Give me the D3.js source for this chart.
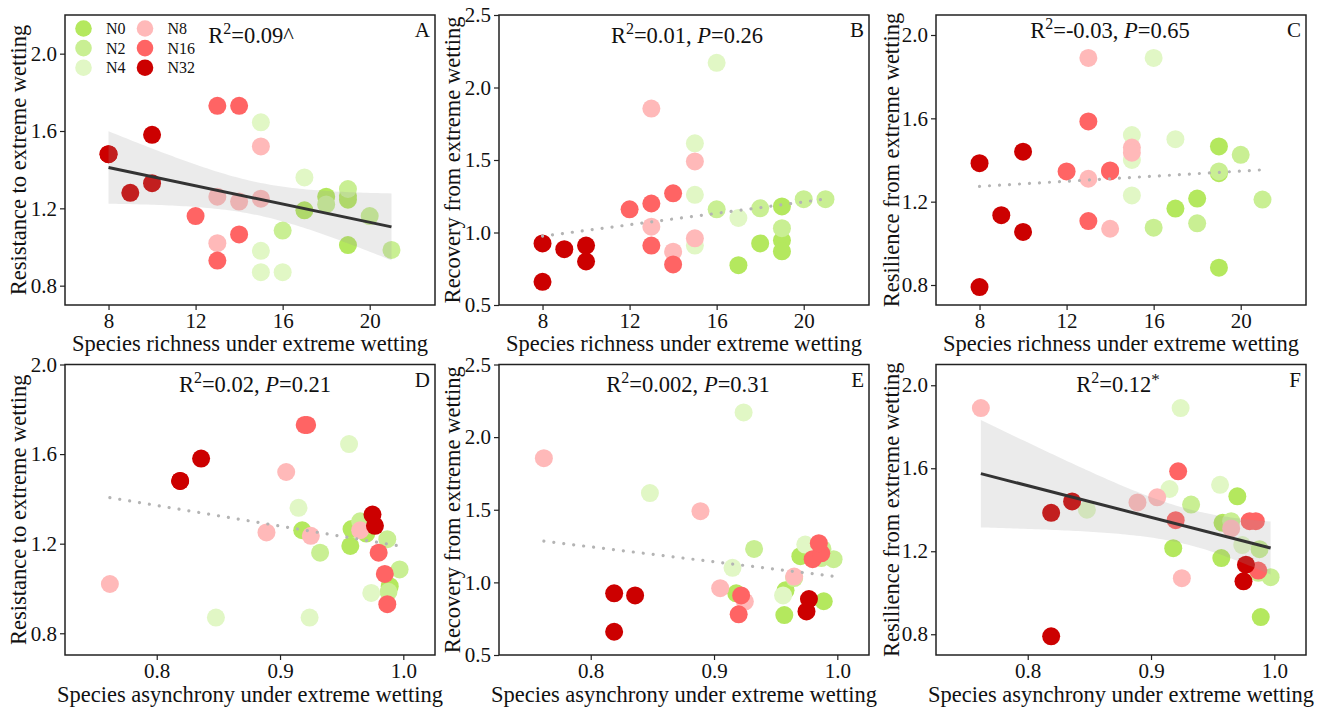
<!DOCTYPE html>
<html><head><meta charset="utf-8">
<script src="https://cdn.jsdelivr.net/npm/d3@7"></script>
<style>
body{margin:0;background:#fff}
svg{display:block}
text{font-family:"Liberation Serif","Times New Roman",serif;fill:#111}
</style>
</head><body>
<svg id="chart" width="1328" height="710"></svg>
<script>
// ---------- data (30 plots, 6 N levels x 5 replicates) ----------
const group = ["N0","N0","N0","N0","N0","N2","N2","N2","N2","N2","N4","N4","N4","N4","N4",
               "N8","N8","N8","N8","N8","N16","N16","N16","N16","N16","N32","N32","N32","N32","N32"];
const richness   = [18,19,19,17,19, 16,18,19,20,21, 16,17,15,15,15, 13,15,15,14,13, 12,13,13,14,14, 8,8,10,9,10];
const asynchrony = [0.918,0.970,0.958,0.957,0.989, 0.997,0.987,0.965,0.9325,0.988, 0.924,0.915,0.956,0.848,0.974,
                    0.762,0.905,0.889,0.925,0.965, 0.980,0.922,0.987,0.920,0.985, 0.819,0.819,0.836,0.977,0.975];
const resistance = [1.26,1.245,1.265,1.19,1.01, 1.085,1.22,1.30,1.16,0.985, 0.87,1.36,1.645,0.87,0.98,
                    1.02,1.52,1.25,1.235,1.26, 1.16,1.73,0.93,1.73,1.065, 1.48,1.48,1.58,1.28,1.33];
const recovery   = [0.925,1.18,0.945,0.775,0.87, 1.16,1.167,1.03,1.23,1.23, 2.17,1.10,0.91,1.615,1.26,
                    1.855,0.96,1.49,0.868,1.04, 1.16,0.91,1.20,0.78,1.27, 0.925,0.66,0.91,0.885,0.80];
const resilience = [1.215,1.465,1.337,1.167,0.883, 1.075,1.096,1.345,1.425,1.21, 1.89,1.50,1.52,1.40,1.23,
                    1.89,1.46,1.435,1.07,1.31, 1.345,1.585,1.107,1.35,1.345, 1.385,0.79,1.44,1.135,1.055];

const legendLabels = ["N0","N2","N4","N8","N16","N32"];
const groupColors  = ["#b4e85e","#c9ef93","#e1f7c5","#ffb9b9","#ff6464","#cc0000"];

const richnessTicks   = [8,12,16,20];
const asynchronyTicks = [0.8,0.9,1.0];
const resistanceTicks = [0.8,1.2,1.6,2.0];
const recoveryTicks   = [0.5,1.0,1.5,2.0,2.5];
const resilienceTicks = [0.8,1.2,1.6,2.0];

const panelLetters = ["A","B","C","D","E","F"];
const statR2   = ["0.09","0.01","-0.03","0.02","0.002","0.12"];
const statP    = [null,"0.26","0.65","0.21","0.31",null];
const statMark = ["^","","","","","*"];
const significant = [true,false,false,false,false,true];

const xTitles = ["Species richness under extreme wetting","Species asynchrony under extreme wetting"];
const yTitles = ["Resistance to extreme wetting","Recovery from extreme wetting","Resilience from extreme wetting"];

// ---------- layout ----------
const colorOf = d3.scaleOrdinal().domain(legendLabels).range(groupColors);
const cols = [{l:65,r:435,yt:26},{l:499,r:869,yt:460},{l:936,r:1306,yt:899}];
const rows = [{t:15,b:305,xl:328,xt:351},{t:364.5,b:655,xl:678,xt:702}];
const yVars = [
  {v:resistance, ticks:resistanceTicks, doms:[[0.70,2.20],[0.703,2.0]], title:yTitles[0]},
  {v:recovery,   ticks:recoveryTicks,   doms:[[0.5,2.5],[0.5,2.5]],     title:yTitles[1]},
  {v:resilience, ticks:resilienceTicks, doms:[[0.704,2.096],[0.70,2.10]], title:yTitles[2]}
];
const xVars = [
  {v:richness,   ticks:richnessTicks,   dom:[6,23],           fmt:d3.format("d"),   title:xTitles[0]},
  {v:asynchrony, ticks:asynchronyTicks, dom:[0.7256,1.0257],  fmt:d3.format(".1f"), title:xTitles[1]}
];
const statPos = [[251,43],[687,43],[1110,38],[255,392],[688,392],[1118,392]];

const svg = d3.select("#chart");

function olsFit(xs, ys){
  const n = xs.length, mx = d3.mean(xs), my = d3.mean(ys);
  let sxx=0, sxy=0;
  for(let i=0;i<n;i++){ sxx += (xs[i]-mx)**2; sxy += (xs[i]-mx)*(ys[i]-my); }
  const b = sxy/sxx, a = my - b*mx;
  let sse=0; for(let i=0;i<n;i++){ sse += (ys[i]-a-b*xs[i])**2; }
  const s = Math.sqrt(sse/(n-2)), t = 2.048;
  return {a,b,band:x=>t*s*Math.sqrt(1/n + (x-mx)**2/sxx)};
}

for(let r=0;r<2;r++){
  for(let c=0;c<3;c++){
    const k = r*3+c;
    const col = cols[c], row = rows[r];
    const xv = xVars[r], yv = yVars[c];
    const x = d3.scaleLinear().domain(xv.dom).range([col.l,col.r]);
    const y = d3.scaleLinear().domain(yv.doms[r]).range([row.b,row.t]);
    const g = svg.append("g");

    // points
    g.selectAll("circle.pt").data(d3.range(30)).join("circle")
      .attr("class","pt")
      .attr("cx",i=>x(xv.v[i])).attr("cy",i=>y(yv.v[i])).attr("r",9)
      .attr("fill",i=>colorOf(group[i]));

    // fit
    const fit = olsFit(xv.v, yv.v);
    const [xmin,xmax] = d3.extent(xv.v);
    if(significant[k]){
      const xs = d3.range(0,81).map(j=>xmin+(xmax-xmin)*j/80);
      const area = d3.area().x(d=>x(d)).y0(d=>y(fit.a+fit.b*d-fit.band(d))).y1(d=>y(fit.a+fit.b*d+fit.band(d)));
      g.append("path").attr("d",area(xs)).attr("fill","#999").attr("fill-opacity",0.2);
      g.append("line").attr("x1",x(xmin)).attr("x2",x(xmax))
        .attr("y1",y(fit.a+fit.b*xmin)).attr("y2",y(fit.a+fit.b*xmax))
        .attr("stroke","#333").attr("stroke-width",3);
    } else {
      g.append("line").attr("x1",x(xmin)).attr("x2",x(xmax))
        .attr("y1",y(fit.a+fit.b*xmin)).attr("y2",y(fit.a+fit.b*xmax))
        .attr("stroke","#b4b4b4").attr("stroke-width",3.2)
        .attr("stroke-linecap","round").attr("stroke-dasharray","0.01 10");
    }

    // frame
    g.append("rect").attr("x",col.l).attr("y",row.t).attr("width",col.r-col.l).attr("height",row.b-row.t)
      .attr("fill","none").attr("stroke","#222").attr("stroke-width",1.5);

    // axes
    const xa = g.append("g").attr("transform",`translate(0,${row.b})`)
      .call(d3.axisBottom(x).tickValues(xv.ticks).tickFormat(xv.fmt).tickSize(5).tickPadding(3));
    xa.select(".domain").remove();
    xa.selectAll("line").attr("stroke","#222").attr("stroke-width",1.2);
    xa.selectAll("text").attr("dy",null).attr("y",row.xl-row.b).attr("font-size",21)
      .attr("font-family","Liberation Serif").attr("fill","#111");

    const ya = g.append("g").attr("transform",`translate(${col.l},0)`)
      .call(d3.axisLeft(y).tickValues(yv.ticks).tickFormat(d3.format(".1f")).tickSize(5).tickPadding(3));
    ya.select(".domain").remove();
    ya.selectAll("line").attr("stroke","#222").attr("stroke-width",1.2);
    ya.selectAll("text").attr("font-size",21).attr("font-family","Liberation Serif").attr("fill","#111");

    // axis titles
    g.append("text").attr("x",(col.l+col.r)/2).attr("y",row.xt).attr("text-anchor","middle")
      .attr("font-size",22.5).text(xv.title);
    g.append("text").attr("transform",`translate(${col.yt},${(row.t+row.b)/2}) rotate(-90)`)
      .attr("text-anchor","middle").attr("font-size",22.5).text(yv.title);

    // panel letter
    g.append("text").attr("x",col.r-5).attr("y",row.t+22).attr("text-anchor","end")
      .attr("font-size",21).text(panelLetters[k]);

    // stat label
    const st = g.append("text").attr("x",statPos[k][0]).attr("y",statPos[k][1])
      .attr("text-anchor","middle").attr("font-size",22.5);
    st.append("tspan").text("R");
    st.append("tspan").attr("font-size",16).attr("dy",-9).text("2");
    if(statP[k]!==null){
      st.append("tspan").attr("dy",9).text("=" + statR2[k] + ", ");
      st.append("tspan").attr("font-style","italic").text("P");
      st.append("tspan").text("=" + statP[k]);
    } else if(statMark[k]==="*"){
      st.append("tspan").attr("dy",9).text("=" + statR2[k]);
      st.append("tspan").attr("dy",-7).attr("font-size",17).text("*");
    } else {
      st.append("tspan").attr("dy",9).text("=" + statR2[k] + statMark[k]);
    }

    // legend in panel A
    if(k===0){
      const lg = g.append("g");
      legendLabels.forEach((lab,i)=>{
        const cx = i<3 ? 83.5 : 145, cy = 28.5 + (i%3)*19.6;
        lg.append("circle").attr("cx",cx).attr("cy",cy).attr("r",8.3).attr("fill",colorOf(lab));
        lg.append("text").attr("x",cx+22.5).attr("y",cy+5.5).attr("font-size",16).text(lab);
      });
    }
  }
}
</script>
</body></html>
